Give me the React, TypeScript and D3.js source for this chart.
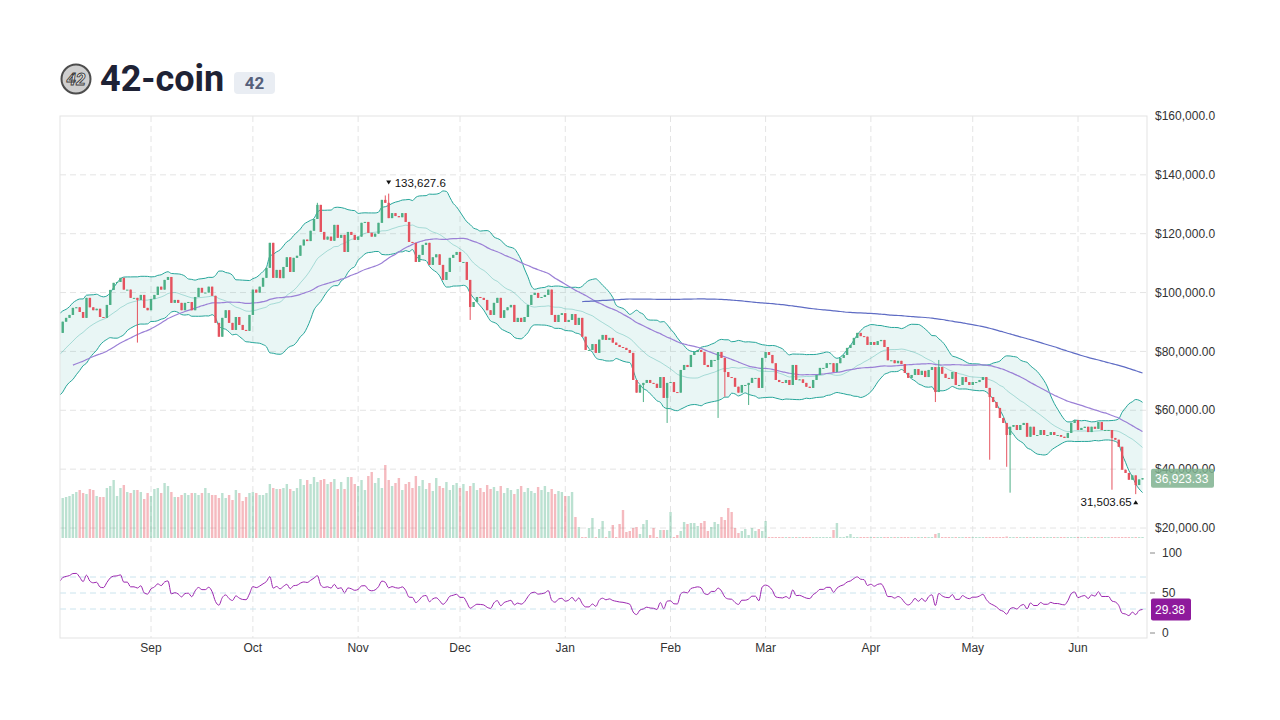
import React from "react";
import * as d3 from "d3";

// ---- daily closes, thousands of USD ----
// Jun 21 – Aug 5 2024 (before the visible window, only feeds the indicators)
const preCloses = [
  72, 71, 69.5, 70, 68, 69, 71, 72.5, 71, 70,
  68.5, 67, 68, 70, 71.5, 72, 70.5, 69, 70, 71,
  73, 72, 70, 69, 68, 67.5, 68,
  66, 70, 72, 71, 74, 75, 77, 76, 79, 81,
  80, 83, 85, 84, 87, 88, 86, 89, 86.3,
];
const augCloses = [
  90.1, 91.4, 92.4, 94.8, 95, 93.4, 91.4, 98.2, 95, 94,
  94.5, 91.7, 91.4, 95.8, 100.9, 103.3, 103.6, 105, 101, 101,
  98.2, 98.2, 97.5, 99.2, 94.8, 94,
];
const sepCloses = [
  97.8, 99.2, 102, 101, 104.3, 105.3, 96.5, 97.5, 96.5, 94,
  96.5, 96.8, 94, 98.5, 101.6, 100, 100, 102, 98.9, 89.7,
  85, 91.4, 94, 89.7, 87.3, 91.7, 89, 87.3, 87, 92.4,
];
const octCloses = [
  101, 100, 102, 105, 108.4, 116.9, 105, 107.7, 104.9, 108.7,
  112, 107, 111.8, 112.5, 116, 118, 117.5, 121, 125, 129.8,
  120.6, 118, 119, 117.6, 123, 118.6, 119.6, 113.8, 120.6, 119.6,
  117.9,
];
const novCloses = [
  119, 123.7, 124, 120.3, 119, 120, 123.7, 131.5, 130.5, 125.3,
  127, 126, 125.6, 127, 124, 117.2, 116.9, 110.4, 112.8, 116.2,
  116.9, 109.4, 112, 113, 109.4, 104.3, 107, 111.8, 112.8, 113.8,
];
const decCloses = [
  110.4, 110.4, 104.3, 95.1, 96.8, 98.5, 98.2, 97.5, 94, 92.4,
  96.5, 98.2, 91.4, 94, 95, 95.8, 90, 91.4, 90, 91.7,
  95.8, 99.2, 99.9, 98.2, 98.5, 99.2, 101, 92.4, 90, 92.4,
  93,
];
const janCloses = [
  90, 90.7, 92.7, 89, 91.4, 85, 80.5, 80.5, 82.5, 79.5,
  84, 85.6, 83.9, 84.6, 83, 82.2, 81.5, 81.2, 80.5, 79.5,
  70.3, 66, 68.6, 69.3, 70.3, 69.3, 69, 67.6, 71.3, 64.2,
  69.3,
];
const febCloses = [
  69.6, 66.2, 66, 73.7, 75.4, 74.7, 78.8, 79.8, 80.5, 79.8,
  75.4, 74.7, 77.1, 77.1, 79.8, 77.8, 73, 71.3, 71, 68,
  66, 68.6, 68.6, 69.3, 71, 71, 67.6, 77.8,
];
const marCloses = [
  79.8, 78.8, 76, 70.3, 69.6, 69.3, 70.3, 68.6, 75.4, 70.3,
  70.5, 69.3, 68, 67.6, 70.3, 72, 74.4, 74.4, 76, 76,
  73, 76, 77.8, 78.8, 81.2, 82.2, 84.6, 86.3, 85.2, 85,
  82.2,
];
const aprCloses = [
  83.2, 82.2, 83.5, 83.9, 81.5, 77, 77, 76, 76.8, 75.7,
  72.7, 71, 72, 74, 72, 73.4, 71.3, 73.7, 74.7, 66.2,
  74.7, 72.4, 71, 70.7, 73, 68.6, 68.6, 71.3, 69.6, 68.6,
];
const mayCloses = [
  69.6, 69.6, 70.3, 71.3, 67.6, 64.5, 62.8, 60.8, 57.4, 55.7,
  51.6, 54.4, 55, 53.3, 55, 55.7, 51, 54.4, 51.6, 51.6,
  53.3, 51.6, 51.6, 52.6, 51.6, 51.6, 51, 50.6, 52.3, 55.7,
  56.7,
];
const junCloses = [
  53.3, 54, 54.4, 52.6, 54.4, 53.7, 56, 53.3, 53.3, 53.3,
  50.6, 50, 47.6, 39.8, 38.7, 36.4, 37.88, 34.6, 36.5, 36.92333,
];

// long wicks only (thousands of USD)
const wickLows: [string, number][] = [
  ["2024-08-28", 83.0], ["2024-12-04", 90.7], ["2025-01-24", 62.8],
  ["2025-01-31", 55.7], ["2025-02-15", 57.4], ["2025-02-17", 64.6],
  ["2025-02-24", 61.8], ["2025-04-20", 62.8], ["2025-05-06", 43.2],
  ["2025-05-11", 40.8], ["2025-05-12", 32.0], ["2025-06-11", 33.0],
  ["2025-06-18", 31.50365],
];
const wickHighs: [string, number][] = [
  ["2024-10-20", 130.5], ["2024-11-09", 133.0], ["2024-11-10", 133.6276],
  ["2025-04-21", 77.1],
];

// volume, visible days from Aug 6
const augVol = [40, 41, 42, 44, 46, 48, 45, 44, 49, 48, 42, 41, 41, 50, 52, 58, 42, 50, 53, 46, 45, 48, 48, 46, 39, 45];
const sepVol = [42, 49, 50, 45, 55, 52, 46, 41, 41, 43, 45, 43, 45, 45, 43, 45, 50, 45, 43, 43, 40, 45, 40, 43, 38, 48, 45, 37, 41, 45];
const octVol = [46, 45, 43, 43, 45, 54, 50, 49, 49, 50, 54, 49, 47, 50, 59, 53, 58, 54, 61, 56, 58, 59, 54, 56, 59, 49, 56, 49, 61, 61, 54];
const novVol = [52, 58, 48, 62, 66, 55, 60, 50, 73, 58, 52, 55, 60, 48, 54, 56, 50, 62, 52, 58, 49, 55, 47, 60, 52, 50, 56, 48, 53, 55];
const decVol = [50, 54, 47, 52, 55, 48, 50, 46, 53, 49, 51, 47, 52, 45, 50, 48, 44, 49, 52, 46, 50, 47, 45, 51, 48, 52, 46, 49, 44, 47, 46];
const janVol = [42, 42, 46, 21, 11, 0, 0, 10, 20, 0.5, 9, 17, 0, 7, 13, 0, 14, 28, 6, 7, 10, 11, 4, 14, 18, 3, 10, 0, 8, 8, 8];
const febVol = [26, 0, 3, 7, 16, 14, 15, 15, 12, 15, 17, 7, 11, 16, 14, 21, 18, 30, 26, 10, 5, 7, 9, 3, 10, 7, 9, 7];
const marVol = [17, 0, 0, 0, 0, 0, 0, 0, 0, 0, 0, 0, 0, 0, 0, 0, 0, 0, 0, 0, 8, 15, 0, 0, 2, 4, 0, 0, 0, 0, 0];
const aprVol = [0, 0, 0, 0, 0, 0, 0, 0, 0, 0, 0, 0, 0, 0, 0, 0, 0, 0, 0, 4, 5, 0, 0, 0, 0, 0, 0, 0, 0, 0];
const mayVol = [0, 0, 0, 0, 0, 0, 0, 0, 0, 1, 1.5, 0, 0, 0, 0, 0, 0, 0, 0, 0, 0, 0, 0, 0, 0, 0, 0, 0, 0, 0, 0];
const junVol = [0, 0, 0, 0, 0, 0, 0, 0, 0, 0, 0, 0, 0, 0, 0, 0, 0, 0, 0, 0];

const priceTicks = [160000, 140000, 120000, 100000, 80000, 60000, 40000, 20000];
const priceTickLabels = ["$160,000.0", "$140,000.0", "$120,000.0", "$100,000.0", "$80,000.00", "$60,000.00", "$40,000.00", "$20,000.00"];
const rsiTicks = [100, 50, 0];
const rsiLevels = [70, 50, 30];
const monthLabels = ["Sep", "Oct", "Nov", "Dec", "Jan", "Feb", "Mar", "Apr", "May", "Jun"];

const UP = "#4caf86";
const DOWN = "#e5535f";
const AXIS_FONT = "'Liberation Sans', Arial, sans-serif";

type Bar = { date: Date; o: number; h: number; l: number; c: number; v: number | null };

const DAY = 864e5;
const start = Date.UTC(2024, 5, 21);
const day = (s: string) => new Date(s + "T00:00:00Z").getTime();

function buildBars(): Bar[] {
  const all = [
    ...preCloses, ...augCloses, ...sepCloses, ...octCloses, ...novCloses, ...decCloses,
    ...janCloses, ...febCloses, ...marCloses, ...aprCloses, ...mayCloses, ...junCloses,
  ].map((k) => k * 1000);
  const vols = [...augVol, ...sepVol, ...octVol, ...novVol, ...decVol, ...janVol, ...febVol, ...marVol, ...aprVol, ...mayVol, ...junVol];
  const lows = new Map(wickLows.map(([d, v]) => [day(d), v * 1000]));
  const highs = new Map(wickHighs.map(([d, v]) => [day(d), v * 1000]));
  return all.map((c, i) => {
    const t = start + i * DAY;
    const o = i ? all[i - 1] : c;
    const vi = i - preCloses.length;
    return {
      date: new Date(t),
      o,
      c,
      h: Math.max(o, c, highs.get(t) ?? 0),
      l: Math.min(o, c, lows.get(t) ?? Infinity),
      v: vi >= 0 ? vols[vi] ?? 0 : null,
    };
  });
}

function sma(vals: number[], n: number) {
  return vals.map((_, i) => (i < n - 1 ? null : d3.mean(vals.slice(i - n + 1, i + 1))!));
}

function bollinger(vals: number[], n: number, k: number) {
  return vals.map((_, i) => {
    if (i < n - 1) return null;
    const w = vals.slice(i - n + 1, i + 1);
    const m = d3.mean(w)!;
    const sd = Math.sqrt(d3.mean(w, (v) => (v - m) ** 2)!);
    return { m, up: m + k * sd, lo: m - k * sd };
  });
}

function rsi(vals: number[], n: number) {
  const out: (number | null)[] = vals.map(() => null);
  let g = 0, l = 0;
  for (let i = 1; i <= n; i++) {
    const ch = vals[i] - vals[i - 1];
    if (ch > 0) g += ch; else l -= ch;
  }
  g /= n; l /= n;
  out[n] = 100 - 100 / (1 + g / l);
  for (let i = n + 1; i < vals.length; i++) {
    const ch = vals[i] - vals[i - 1];
    g = (g * (n - 1) + Math.max(ch, 0)) / n;
    l = (l * (n - 1) + Math.max(-ch, 0)) / n;
    out[i] = l === 0 ? 100 : 100 - 100 / (1 + g / l);
  }
  return out;
}

export default function App() {
  const L = 60, R = 1147, T = 116, MB = 538, RT = 540, RB = 638;
  const bars = buildBars();
  const closes = bars.map((b) => b.c);
  const bb = bollinger(closes, 20, 2);
  const ma50 = sma(closes, 50);
  const ma200 = sma(closes, 200);
  const rs = rsi(closes, 14);

  const x = d3.scaleUtc()
    .domain([new Date(Date.UTC(2024, 8, 1)), new Date(Date.UTC(2025, 5, 1))])
    .range([151, 1078]);
  const y = d3.scaleLinear().domain([20000, 160000]).range([528, T]);
  const yVol = d3.scaleLinear().domain([0, 84]).range([MB, MB - 84]);
  const yRsi = d3.scaleLinear().domain([0, 100]).range([633, 553]);

  const months = monthLabels.map((m, i) => ({ m, d: new Date(Date.UTC(2024, 8 + i, 1)) }));
  const bw = 2.4;

  const idx = bars.map((_, i) => i);
  const bandArea = d3.area<number>()
    .defined((i) => bb[i] != null)
    .x((i) => x(bars[i].date))
    .y0((i) => y(bb[i]!.lo))
    .y1((i) => y(bb[i]!.up))
    .curve(d3.curveMonotoneX);
  const lineOf = (arr: (number | null | undefined)[], sc: (v: number) => number) =>
    d3.line<number>()
      .defined((i) => arr[i] != null)
      .x((i) => x(bars[i].date))
      .y((i) => sc(arr[i] as number))
      .curve(d3.curveMonotoneX)(idx) || "";

  const visible = bars.filter((b) => b.v != null);
  const last = bars[bars.length - 1];
  const lastRsi = rs[rs.length - 1] as number;

  let hiBar = visible[0], loBar = visible[0];
  visible.forEach((b) => { if (b.h > hiBar.h) hiBar = b; if (b.l < loBar.l) loBar = b; });
  const fmt = (v: number, p: number) =>
    v.toLocaleString("en-US", { minimumFractionDigits: p, maximumFractionDigits: p });

  const grid = "#e4e4e4";

  return (
    <svg width={1280} height={720} style={{ position: "absolute", left: 0, top: 0, background: "#fff" }}>
      <defs>
        <clipPath id="mainClip"><rect x={L} y={T} width={R - L} height={MB - T} /></clipPath>
        <clipPath id="rsiClip"><rect x={L} y={RT} width={R - L} height={RB - RT} /></clipPath>
      </defs>

      {/* title */}
      <g>
        <circle cx={76} cy={79} r={14.5} fill="#cfcfcf" stroke="#4d4d4d" strokeWidth={2} />
        <text x={76} y={85} textAnchor="middle" fontFamily="Roboto, sans-serif" fontStyle="italic" fontWeight={700}
          fontSize={17} fill="#f0f0f0" stroke="#3c3c3c" strokeWidth={0.9}>42</text>
        <text x={100} y={91} fontFamily="Roboto, 'Noto Sans', sans-serif" fontWeight={700} fontSize={36} fill="#1e2235">42-coin</text>
        <rect x={234} y={72} width={41} height={22} rx={4} fill="#e9edf3" />
        <text x={254.5} y={89} textAnchor="middle" fontFamily="Roboto, sans-serif" fontWeight={700} fontSize={17} fill="#55607a">42</text>
      </g>

      {/* grid */}
      <g stroke={grid} strokeDasharray="6,4">
        {priceTicks.slice(1).map((p) => (
          <line key={p} x1={L} x2={R} y1={y(p)} y2={y(p)} />
        ))}
        {months.map(({ m, d }) => (
          <line key={m} x1={x(d)} x2={x(d)} y1={T} y2={RB} />
        ))}
      </g>
      <g stroke="#cbe4ee" strokeDasharray="6,4">
        {rsiLevels.map((v) => (
          <line key={v} x1={L} x2={R} y1={yRsi(v)} y2={yRsi(v)} />
        ))}
      </g>

      <g clipPath="url(#mainClip)">
        {/* volume */}
        {visible.map((b, i) => {
          const h = Math.max(1, MB - yVol(b.v as number));
          return (
            <rect key={i} x={x(b.date) - bw / 2} y={MB - h} width={bw} height={h}
              fill={b.c >= b.o ? "rgba(76,175,134,0.38)" : "rgba(229,83,95,0.4)"} />
          );
        })}
        {/* bollinger */}
        <path d={bandArea(idx) || ""} fill="rgba(38,166,154,0.1)" />
        <path d={lineOf(bb.map((b) => b?.up), y)} fill="none" stroke="#26a69a" strokeWidth={1} />
        <path d={lineOf(bb.map((b) => b?.lo), y)} fill="none" stroke="#26a69a" strokeWidth={1} />
        <path d={lineOf(bb.map((b) => b?.m), y)} fill="none" stroke="rgba(38,166,154,0.35)" strokeWidth={1} />
        <path d={lineOf(ma50, y)} fill="none" stroke="#9b80d6" strokeWidth={1.2} />
        <path d={lineOf(ma200, y)} fill="none" stroke="#5f6cc4" strokeWidth={1.2} />
        {/* candles */}
        {visible.map((b, i) => {
          const cx = x(b.date);
          const col = b.c >= b.o ? UP : DOWN;
          const top = y(Math.max(b.o, b.c));
          const bh = Math.max(1, y(Math.min(b.o, b.c)) - top);
          return (
            <g key={i}>
              <line x1={cx} x2={cx} y1={y(b.h)} y2={y(b.l)} stroke={col} strokeWidth={1} />
              <rect x={cx - bw / 2} y={top} width={bw} height={bh} fill={col} />
            </g>
          );
        })}
      </g>

      {/* rsi */}
      <g clipPath="url(#rsiClip)">
        <path d={lineOf(rs, yRsi)} fill="none" stroke="#9c27b0" strokeWidth={1} />
      </g>

      {/* high / low markers */}
      <g fontFamily={AXIS_FONT} fontSize={11.5} fill="#111">
        <path d={`M${x(hiBar.date) - 2.5},${y(hiBar.h) - 13}h5l-2.5,4z`} />
        <text x={x(hiBar.date) + 6} y={y(hiBar.h) - 6.5}>{fmt(hiBar.h, 1)}</text>
        <path d={`M${x(loBar.date) - 2.5},${y(loBar.l) + 10}h5l-2.5,-4z`} />
        <text x={x(loBar.date) - 4} y={y(loBar.l) + 12} textAnchor="end">{fmt(loBar.l, 2)}</text>
      </g>

      {/* frame */}
      <rect x={L} y={T} width={R - L} height={RB - T} fill="none" stroke="#e3e3e3" />

      {/* price axis */}
      <g fontFamily={AXIS_FONT} fontSize={12} fill="#333">
        {priceTicks.map((p, i) => (
          <text key={p} x={1155} y={y(p)} dy="0.35em">{priceTickLabels[i]}</text>
        ))}
        {rsiTicks.map((v) => (
          <g key={v}>
            <line x1={R + 3} x2={R + 8} y1={yRsi(v)} y2={yRsi(v)} stroke="#888" />
            <text x={1162} y={yRsi(v)} dy="0.35em">{v}</text>
          </g>
        ))}
        {months.map(({ m, d }) => (
          <text key={m} x={x(d)} y={648} dy="0.35em" textAnchor="middle">{m}</text>
        ))}
      </g>

      {/* last value labels */}
      <g fontFamily={AXIS_FONT} fontSize={12} fill="#fff">
        <rect x={1151} y={y(last.c) - 9.5} width={63} height={19} rx={2} fill="#7fb28f" opacity={0.85} />
        <text x={1155} y={y(last.c)} dy="0.36em">{fmt(last.c, 2)}</text>
        <rect x={1151} y={yRsi(lastRsi) - 11} width={40} height={22} rx={2} fill="#8e1a9c" />
        <text x={1155} y={yRsi(lastRsi)} dy="0.36em">{lastRsi.toFixed(2)}</text>
      </g>
    </svg>
  );
}
